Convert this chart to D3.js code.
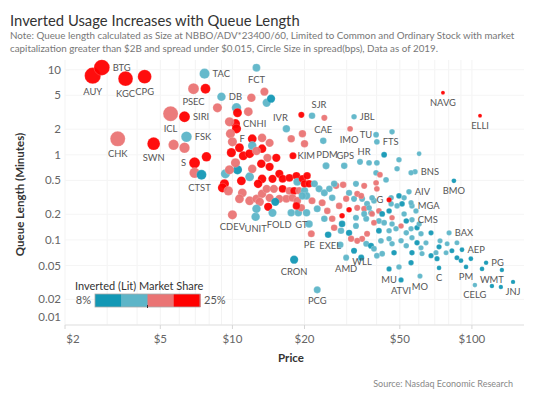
<!DOCTYPE html>
<html><head><meta charset="utf-8">
<script src="https://cdn.jsdelivr.net/npm/d3@7"></script>
<style>
body{margin:0;background:#fff;}
text{font-family:Lato,"Open Sans",sans-serif;}
</style>
</head><body>
<svg id="chart" width="533" height="400"></svg>
<script>
// ---------- DATA ----------
const titleText = "Inverted Usage Increases with Queue Length";
const noteLines = [
  "Note: Queue length calculated as Size at NBBO/ADV*23400/60, Limited to Common and Ordinary Stock with market",
  "capitalization greater than $2B and spread under $0.015, Circle Size in spread(bps), Data as of 2019."
];
const sourceText = "Source: Nasdaq Economic Research";
const xTickValues = [2, 5, 10, 20, 50, 100];
const yTickValues = [0.01, 0.02, 0.05, 0.1, 0.2, 0.5, 1, 2, 5, 10];
const shareDomain = [8, 25];
const shareLabels = ["8%", "25%"];

// first entries are the labelled stocks (same order as labelTickers)
const labelTickers = ["BTG","AUY","KGC","CPG","ICL","CHK","SWN","PSEC","SIRI","FSK",
  "S","CTST","TAC","FCT","DB","CNHI","F","IVR","SJR","CAE",
  "JBL","IMO","TU","FTS","HR","KIM","PDM","GPS","BNS","BMO",
  "NAVG","ELLI","G","AIV","MGA","CMS","BAX","AEP","PG","WMT",
  "JNJ","CELG","PM","C","MO","ATVI","MU","WLL","AMD","PE",
  "EXEL","CRON","PCG","FOLD","GT","UNIT","CDEV"];

const price = [
  2.85,2.61,3.58,4.30,5.52,3.32,4.69,6.88,6.31,6.43,
  6.95,7.43,7.65,12.6,9.00,10.3,12.1,16.8,21.5,23.95,
  32.2,31.0,39.8,40.1,34.1,17.9,24.6,29.3,57.9,84.1,
  75.7,108.1,45.1,54.6,56.2,56.2,80.3,90.9,114.6,133.4,
  148.5,102.9,94.5,72.9,60.7,50.6,45.1,32.2,29.85,21.35,
  25.1,18.1,22.6,17.6,18.85,12.5,10.0,
  5.68,6.31,7.79,7.72,6.95,8.66,12.0,13.6,13.9,14.5,
  10.4,11.65,10.5,9.72,10.4,9.81,10.0,13.3,14.3,19.4,
  24.2,17.6,19.6,20.0,46.4,37.2,40.1,43.0,49.6,60.2,
  55.7,48.7,39.8,41.3,39.8,43.8,12.1,13.3,11.1,11.8,
  12.6,14.0,15.25,9.35,10.5,9.72,10.9,11.8,12.1,13.2,
  14.3,9.26,9.09,9.62,13.3,14.7,15.7,16.2,17.3,18.5,
  18.65,19.6,20.5,12.8,13.9,14.9,16.2,17.3,18.1,19.0,
  20.0,11.0,11.8,12.6,13.3,13.0,14.3,10.7,15.7,16.8,
  17.8,18.65,19.4,20.4,18.5,15.1,14.1,14.7,12.6,20.4,
  20.0,20.9,19.6,22.0,23.0,24.2,25.4,27.1,26.1,21.5,
  23.7,22.6,24.9,26.6,29.0,32.8,35.5,40.1,30.7,29.85,
  32.2,33.2,34.8,27.9,30.7,33.2,36.5,39.0,40.9,37.9,
  28.7,26.1,24.2,26.6,28.7,32.8,36.2,40.9,42.2,46.0,
  49.6,52.1,45.1,48.7,52.1,53.2,58.4,59.0,20.9,34.5,
  35.5,38.3,39.0,36.5,34.8,38.3,37.2,46.0,51.1,55.7,
  43.0,46.4,50.6,40.9,45.1,48.2,53.2,55.7,56.2,59.0,
  67.5,64.3,36.2,37.9,41.7,46.4,47.3,50.6,53.2,56.2,
  61.3,34.5,40.1,49.6,55.7,61.9,67.5,70.8,71.5,78.0,
  82.5,86.6,90.0,99.0,110.2,121.2,132.1,86.6,78.8,73.6,
  60.2,61.3,72.9,28.4,30.7,32.8,31.3,33.2,39.0,42.2,
  45.1,46.4,35.5,28.2,9.9,10.3,10.7
];
const queue = [
  10.6,8.5,7.84,8.27,3.04,1.54,1.35,5.98,2.80,1.63,
  0.805,0.582,8.98,10.56,4.81,2.32,1.54,2.02,2.88,1.46,
  2.80,2.02,1.72,1.42,0.827,0.973,0.742,0.742,0.631,0.494,
  5.36,2.88,0.296,0.367,0.251,0.172,0.121,0.0766,0.054,0.0444,
  0.0321,0.0295,0.0481,0.0469,0.0376,0.0338,0.0456,0.0745,0.0618,0.118,
  0.115,0.0585,0.0259,0.208,0.208,0.187,0.197,
  1.31,1.21,0.947,5.98,0.614,3.57,4.68,5.51,4.09,4.56,
  3.57,3.21,3.12,2.44,2.02,1.77,1.42,1.58,1.38,2.95,
  2.72,1.54,1.77,1.35,1.86,0.805,0.805,1.0,0.873,1.03,
  0.614,0.684,0.614,0.582,0.468,0.508,1.28,1.18,0.973,1.03,
  1.11,0.922,0.922,0.598,0.666,0.666,0.494,0.551,0.684,0.784,
  0.723,0.456,0.409,0.377,0.522,0.522,0.598,0.522,0.536,0.566,
  0.481,0.522,0.566,0.456,0.398,0.398,0.398,0.377,0.377,0.377,
  0.377,0.357,0.288,0.304,0.348,0.280,0.312,0.304,0.304,0.304,
  0.312,0.288,0.238,0.329,0.251,0.280,0.245,0.208,0.232,0.208,
  0.456,0.456,0.329,0.456,0.398,0.357,0.398,0.432,0.312,0.288,
  0.273,0.232,0.219,0.456,0.444,0.456,0.432,0.398,0.357,0.304,
  0.304,0.348,0.304,0.251,0.226,0.238,0.265,0.288,0.219,0.208,
  0.192,0.177,0.177,0.139,0.154,0.182,0.177,0.167,0.202,0.312,
  0.329,0.312,0.219,0.251,0.202,0.167,0.219,0.139,0.154,0.329,
  0.232,0.202,0.159,0.118,0.103,0.312,0.238,0.265,0.265,0.273,
  0.159,0.154,0.146,0.128,0.128,0.135,0.121,0.135,0.106,0.0924,
  0.121,0.0924,0.09,0.0853,0.0975,0.09,0.0707,0.0975,0.0853,0.0707,
  0.0808,0.0618,0.0652,0.0481,0.054,0.0688,0.0652,0.0707,0.0601,0.0707,
  0.0745,0.0618,0.057,0.0601,0.0456,0.0287,0.028,0.0924,0.09,0.0975,
  0.154,0.118,0.083,0.128,0.121,0.146,0.103,0.0975,0.0787,0.0688,
  0.103,0.182,0.202,0.0876,1.06,0.805,1.21
];
// inverted (lit) market share, %
const share = [
  23.5,24.1,22.8,23.2,19.4,19.1,21.6,18.7,22.1,14.8,
  21.9,11.2,13.9,14.5,13.6,21.2,22.4,15.1,13.3,14.0,
  13.1,17.3,14.6,13.8,14.3,21.0,15.5,14.1,13.5,10.8,
  22.0,21.4,21.1,13.2,13.9,14.7,13.4,10.9,10.2,11.0,
  9.8,13.1,10.4,11.5,12.8,11.7,11.9,11.3,13.0,17.6,
  12.0,11.4,14.2,13.7,14.4,15.0,18.2,
  18.6,17.9,22.9,21.5,19.5,17.2,18.6,20.1,14.8,10.1,
  13.4,18.6,24.0,17.2,21.1,19.5,17.9,20.1,18.6,23.3,
  17.2,18.6,19.5,17.9,15.6,12.9,14.1,11.4,13.4,14.8,
  15.6,12.9,14.1,20.1,18.6,13.4,14.8,21.5,22.9,24.0,
  19.5,17.2,21.1,15.6,9.6,17.9,23.3,12.9,20.1,21.5,
  22.9,24.0,21.1,18.6,23.3,21.5,22.9,24.0,21.1,23.3,
  14.1,21.5,22.9,24.0,17.2,19.5,21.1,17.9,23.3,20.1,
  13.4,18.6,17.2,19.5,17.9,20.1,18.6,17.2,19.5,17.9,
  20.1,18.6,17.2,14.8,21.5,10.7,22.9,15.6,12.9,14.1,
  24.0,21.1,13.4,14.8,15.6,12.9,14.1,19.5,13.4,17.9,
  20.1,14.8,18.6,15.6,17.2,12.9,19.5,17.9,14.1,20.1,
  13.4,18.6,14.8,17.2,23.3,19.5,15.6,12.9,17.9,14.1,
  21.5,20.1,13.4,18.6,11.9,14.8,15.6,12.9,10.1,14.1,
  11.4,13.4,9.6,14.8,15.6,11.9,12.9,10.7,14.1,17.2,
  18.6,19.5,17.9,20.1,18.6,13.4,14.8,15.6,10.1,12.9,
  14.1,13.4,17.2,11.4,14.8,15.6,12.9,14.1,13.4,9.6,
  11.9,14.8,15.6,10.7,12.9,14.1,11.4,13.4,14.8,10.1,
  15.6,9.6,12.9,14.1,11.9,13.4,10.7,14.8,11.4,15.6,
  10.1,11.9,9.6,10.7,11.4,10.1,9.6,12.9,14.1,13.4,
  14.8,15.6,11.9,12.9,10.7,14.1,17.9,20.1,13.4,14.8,
  15.6,18.6,12.9,14.1,22.9,19.5,21.1
];
// spread, bps
const spread = [
  42,45,36,31,38,38,26,18,18,17,
  18,14,15,8,10,12,11,7,5,5,
  3,3.5,3.5,3.5,4,6,6,5,2.8,2,
  1,1,2.5,3,3,3,2.5,2,1.6,1.5,
  1.4,1.8,1.8,1.8,2.5,2.5,2.5,4,4,6,
  5,9,6,7,7,10,12,
  16,16,13,14,16,12,10,9,9,9,
  13,11,11,12,12,12,12,10,9,4,
  4,7,7,7,3,3.5,3.5,3.5,3,2,
  2.8,3,3.5,3.5,3.5,3.5,10,10,11,11,
  10,9,9,12,12,12,11,11,10,10,
  9,12,12,12,10,9,9,8,8,8,
  8,7,7,10,9,9,8,8,8,7,
  7,11,11,10,10,10,9,11,9,8,
  8,8,7,7,7,9,9,9,10,7,
  7,7,7,6,6,6,5,5,5,6,
  6,6,5,5,5,4,4,3.5,4.5,4.5,
  4,4,4,5,3,4,4,3.5,3.5,3.5,
  3,5,5,5,5,4,4,3.5,3.5,3,
  3,3,3,3,3,3,2.8,2.8,7,4,
  4,3.5,3.5,4,4,3.5,3.5,3,3,2.8,
  3.5,3,3,3.5,3,3,3,2.8,2.8,2.8,
  2.5,2.5,4,4,3.5,3,3,3,3,2.8,
  2.5,4,3.5,3,2.8,2.5,2.5,2.5,2.5,2.2,
  2.2,2.2,2,2,1.8,1.6,1.5,2.2,2.2,2.5,
  2.8,2.8,2.5,5,4.5,4,4.5,4,3.5,3.5,
  3,3,4,5,12,12,11
];

// label placement (layout only): r=right, l=left, b=below, a=above
const labelPlace = {BTG:"r",AUY:"b",KGC:"b",CPG:"b",ICL:"b",CHK:"b",SWN:"b",PSEC:"b",SIRI:"r",FSK:"r",
  S:"l",CTST:"b",TAC:"r",FCT:"b",DB:"r",CNHI:"r",F:"l",IVR:"a",SJR:"a",CAE:"a",
  JBL:"r",IMO:"b",TU:"l",FTS:"r",HR:"a",KIM:"r",PDM:"a",GPS:"a",BNS:"r",BMO:"b",
  NAVG:"b",ELLI:"b",G:"l",AIV:"r",MGA:"r",CMS:"r",BAX:"r",AEP:"r",PG:"r",WMT:"b",
  JNJ:"b",CELG:"b",PM:"b",C:"b",MO:"b",ATVI:"b",MU:"b",WLL:"b",AMD:"b",PE:"b",
  EXEL:"b",CRON:"b",PCG:"b",FOLD:"b",GT:"b",UNIT:"b",CDEV:"b"};
const labelShift = {SJR:[7,0],IVR:[-6,0],FOLD:[-12,0],GT:[3,0],WMT:[-10,0],WLL:[8,0],CTST:[-2,0],
  PDM:[1,0],GPS:[1,0],HR:[4,0],KIM:[-2,0],PE:[-2,0],EXEL:[2,0],TU:[2,0],IMO:[-1,0]};

// ---------- CHART ----------
const svg = d3.select("#chart");
const plot = {left:65, right:524, top:60, bottom:325};

const x = d3.scaleLog().domain([2, 165]).range([plot.left, plot.right]);
const y = d3.scaleLog().domain([0.01, 13]).range([plot.bottom, plot.top]);
const colors = ["#1398b5", "#5db5c8", "#ea7474", "#ff0000"];
const color = d3.scaleQuantize().domain(shareDomain).range(colors);
const rad = d3.scaleSqrt().domain([1, 50]).range([2, 8.5]);

// title & note
svg.append("text").attr("x", 10).attr("y", 26).attr("font-size", 14.8).attr("fill", "#333").text(titleText);
noteLines.forEach((t, i) => {
  svg.append("text").attr("x", 10).attr("y", 39 + i * 13).attr("font-size", 9.8).attr("fill", "#777").text(t);
});

// grid
const g = svg.append("g");
g.selectAll(".gx").data(x.ticks()).join("line")
  .attr("x1", d => x(d)).attr("x2", d => x(d)).attr("y1", plot.top).attr("y2", plot.bottom)
  .attr("stroke", "#f3f3f3").attr("stroke-width", 1);
g.selectAll(".gy").data(yTickValues).join("line")
  .attr("x1", plot.left).attr("x2", plot.right).attr("y1", d => y(d)).attr("y2", d => y(d))
  .attr("stroke", "#f5f5f5").attr("stroke-width", 1);
g.append("line").attr("x1", plot.left).attr("x2", plot.right).attr("y1", plot.bottom).attr("y2", plot.bottom)
  .attr("stroke", "#e2e2e2");
g.selectAll(".tk").data(xTickValues).join("line")
  .attr("x1", d => x(d)).attr("x2", d => x(d)).attr("y1", plot.bottom).attr("y2", plot.bottom + 4)
  .attr("stroke", "#d6d6d6");

// y tick labels
svg.selectAll(".yl").data(yTickValues).join("text")
  .attr("x", 61).attr("y", d => Math.min(y(d), plot.bottom - 8)).attr("dy", "0.35em")
  .attr("text-anchor", "end").attr("font-size", 11.5).attr("fill", "#666")
  .text(d => d3.format("~g")(d));
// x tick labels
svg.selectAll(".xl").data(xTickValues).join("text")
  .attr("x", d => Math.max(x(d), plot.left + 8)).attr("y", 343)
  .attr("text-anchor", "middle").attr("font-size", 11.5).attr("fill", "#666")
  .text(d => "$" + d);

// axis titles
svg.append("text").attr("transform", `translate(24,${(plot.top + plot.bottom) / 2 + 2}) rotate(-90)`)
  .attr("text-anchor", "middle").attr("font-size", 11.5).attr("font-weight", "bold").attr("fill", "#333")
  .text("Queue Length (Minutes)");
svg.append("text").attr("x", 291).attr("y", 362).attr("text-anchor", "middle")
  .attr("font-size", 11.5).attr("font-weight", "bold").attr("fill", "#333").text("Price");

// source
svg.append("text").attr("x", 513).attr("y", 387).attr("text-anchor", "end")
  .attr("font-size", 9).attr("fill", "#888").text(sourceText);

// points
const pts = price.map((p, i) => ({p, q: queue[i], s: share[i], b: spread[i], t: i < labelTickers.length ? labelTickers[i] : ""}));
const order = pts.slice().sort((a, b) => b.b - a.b);
svg.append("g").selectAll("circle").data(order).join("circle")
  .attr("cx", d => x(d.p)).attr("cy", d => y(d.q)).attr("r", d => rad(d.b))
  .attr("fill", d => color(d.s)).attr("fill-opacity", 0.95)
  .attr("stroke", "#fff").attr("stroke-opacity", 0.35).attr("stroke-width", 0.5);

// labels
const lab = svg.append("g");
pts.filter(d => d.t).forEach(d => {
  const cx = x(d.p), cy = y(d.q), r = rad(d.b);
  const pl = labelPlace[d.t] || "b";
  const sh = labelShift[d.t] || [0, 0];
  let tx = cx, ty = cy, anchor = "middle";
  if (pl === "r") { tx = cx + r + 3; ty = cy + 3.5; anchor = "start"; }
  else if (pl === "l") { tx = cx - r - 3; ty = cy + 3.5; anchor = "end"; }
  else if (pl === "b") { ty = cy + r + 11; }
  else if (pl === "a") { ty = cy - r - 4; }
  lab.append("text").attr("x", tx + sh[0]).attr("y", ty + sh[1]).attr("text-anchor", anchor)
    .attr("font-size", 9.4).attr("fill", "#555").text(d.t);
});

// legend
const lg = svg.append("g");
lg.append("text").attr("x", 75).attr("y", 290).attr("font-size", 11).attr("fill", "#333").text("Inverted (Lit) Market Share");
const lx = 95, lw = 105, ly = 294, lh = 13;
lg.selectAll("rect.sw").data(colors).join("rect")
  .attr("x", (d, i) => lx + i * lw / colors.length).attr("y", ly)
  .attr("width", lw / colors.length + 0.5).attr("height", lh).attr("fill", d => d);
lg.append("rect").attr("x", lx).attr("y", ly).attr("width", lw).attr("height", lh)
  .attr("fill", "none").attr("stroke", "#aaa").attr("stroke-width", 0.8);
lg.append("line").attr("x1", lx + lw / 2).attr("x2", lx + lw / 2).attr("y1", ly + lh - 2).attr("y2", ly + lh + 1)
  .attr("stroke", "#333");
lg.append("text").attr("x", lx - 4).attr("y", ly + lh / 2).attr("dy", "0.35em").attr("text-anchor", "end")
  .attr("font-size", 11).attr("fill", "#555").text(shareLabels[0]);
lg.append("text").attr("x", lx + lw + 4).attr("y", ly + lh / 2).attr("dy", "0.35em").attr("text-anchor", "start")
  .attr("font-size", 11).attr("fill", "#555").text(shareLabels[1]);
</script>
</body></html>
